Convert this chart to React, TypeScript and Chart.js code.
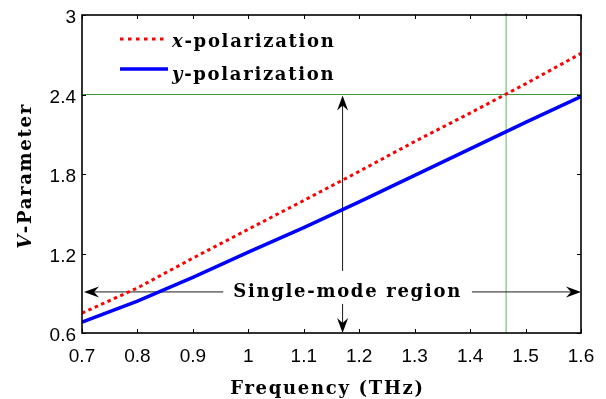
import React, { useEffect, useRef } from "react";
import { Chart, registerables } from "chart.js";

Chart.register(...registerables);

// Frequency samples (THz) and V-parameter for both polarizations
const frequency = [0.7, 0.8, 0.9, 1.0, 1.1, 1.2, 1.3, 1.4, 1.5, 1.6];
const xPolarization = [0.75, 0.94, 1.165, 1.383, 1.6, 1.82, 2.045, 2.26, 2.48, 2.71];
const yPolarization = [0.683, 0.84, 1.02, 1.21, 1.395, 1.59, 1.79, 1.99, 2.19, 2.385];

// Axis ticks
const xTicks = [0.7, 0.8, 0.9, 1.0, 1.1, 1.2, 1.3, 1.4, 1.5, 1.6];
const xTickLabels = ["0.7", "0.8", "0.9", "1", "1.1", "1.2", "1.3", "1.4", "1.5", "1.6"];
const yTicks = [0.6, 1.2, 1.8, 2.4, 3];
const yTickLabels = ["0.6", "1.2", "1.8", "2.4", "3"];

// Single-mode cut-off markers and region annotation
const cutoffV = 2.4;
const cutoffFrequency = 1.465;
const regionV = 0.91;
const markerFrequency = 1.17;
const regionLabel = "Single-mode region";

const SERIF_B = "bold 18px 'DejaVu Serif'";
const SERIF_BI = "italic bold 18px 'DejaVu Serif'";
const SANS = "19px 'Liberation Sans', Arial, sans-serif";
const SPACING = "1.7px";

type Part = { text: string; font: string };

function richWidth(ctx: CanvasRenderingContext2D, parts: Part[]) {
  let w = 0;
  for (const p of parts) {
    ctx.font = p.font;
    w += ctx.measureText(p.text).width;
  }
  return w;
}

function drawRich(ctx: CanvasRenderingContext2D, parts: Part[], x: number, y: number, align: "left" | "center") {
  (ctx as any).letterSpacing = SPACING;
  const w = richWidth(ctx, parts);
  let cx = align === "center" ? x - w / 2 : x;
  ctx.textAlign = "left";
  for (const p of parts) {
    ctx.font = p.font;
    ctx.fillText(p.text, cx, y);
    cx += ctx.measureText(p.text).width;
  }
  (ctx as any).letterSpacing = "0px";
  return w;
}

function arrowHead(ctx: CanvasRenderingContext2D, tx: number, ty: number, dx: number, dy: number) {
  // dx,dy: unit vector pointing from tip back along the shaft
  const len = 15;
  const half = 5.5;
  const notch = 10;
  const px = -dy;
  const py = dx;
  ctx.beginPath();
  ctx.moveTo(tx, ty);
  ctx.lineTo(tx + dx * len + px * half, ty + dy * len + py * half);
  ctx.lineTo(tx + dx * notch, ty + dy * notch);
  ctx.lineTo(tx + dx * len - px * half, ty + dy * len - py * half);
  ctx.closePath();
  ctx.fill();
}

const annotations = {
  id: "vparamAnnotations",
  beforeDatasetsDraw(chart: any) {
    const { ctx, chartArea } = chart;
    const xs = chart.scales.x;
    const ys = chart.scales.y;
    ctx.save();

    // cut-off guide lines
    const gy = ys.getPixelForValue(cutoffV);
    ctx.strokeStyle = "#3a9a3a";
    ctx.lineWidth = 1.2;
    ctx.beginPath();
    ctx.moveTo(chartArea.left, gy);
    ctx.lineTo(chartArea.right, gy);
    ctx.stroke();

    const gx = xs.getPixelForValue(cutoffFrequency);
    ctx.strokeStyle = "#93cf93";
    ctx.lineWidth = 1.5;
    ctx.beginPath();
    ctx.moveTo(gx, chartArea.top - 2);
    ctx.lineTo(gx, chartArea.bottom);
    ctx.stroke();

    // double-headed arrows
    ctx.strokeStyle = "#1a1a1a";
    ctx.fillStyle = "#000";
    ctx.lineWidth = 1;
    const ry = ys.getPixelForValue(regionV);
    const xl = xs.getPixelForValue(xTicks[0]) + 2;
    const xr = xs.getPixelForValue(xTicks[xTicks.length - 1]);
    ctx.beginPath();
    ctx.moveTo(xl + 8, ry);
    ctx.lineTo(xr - 8, ry);
    ctx.stroke();
    arrowHead(ctx, xl, ry, 1, 0);
    arrowHead(ctx, xr, ry, -1, 0);

    const mx = xs.getPixelForValue(markerFrequency);
    const mt = ys.getPixelForValue(cutoffV) + 1;
    const mb = ys.getPixelForValue(yTicks[0]);
    ctx.beginPath();
    ctx.moveTo(mx, mt + 8);
    ctx.lineTo(mx, mb - 8);
    ctx.stroke();
    arrowHead(ctx, mx, mt, 0, 1);
    arrowHead(ctx, mx, mb, 0, -1);

    // region label on a white box
    ctx.font = SERIF_B;
    (ctx as any).letterSpacing = SPACING;
    const tw = ctx.measureText(regionLabel).width;
    const tcx = mx + 5;
    const base = ry + 5;
    ctx.fillStyle = "#fff";
    ctx.fillRect(tcx - tw / 2 - 10, base - 26, tw + 20, 33);
    ctx.fillStyle = "#000";
    ctx.textBaseline = "alphabetic";
    ctx.textAlign = "left";
    ctx.fillText(regionLabel, tcx - tw / 2, base);
    (ctx as any).letterSpacing = "0px";
    ctx.restore();
  },
  afterDatasetsDraw(chart: any) {
    const { ctx, chartArea } = chart;
    const xs = chart.scales.x;
    const ys = chart.scales.y;
    const { left, right, top, bottom } = chartArea;
    ctx.save();

    // axes box
    ctx.strokeStyle = "#000";
    ctx.lineWidth = 1.6;
    ctx.strokeRect(left, top, right - left, bottom - top);

    // inward tick marks on all four sides
    ctx.lineWidth = 1;
    const tl = 4;
    ctx.beginPath();
    for (const v of xTicks) {
      const px = Math.round(xs.getPixelForValue(v)) + 0.5;
      ctx.moveTo(px, bottom);
      ctx.lineTo(px, bottom - tl);
      ctx.moveTo(px, top);
      ctx.lineTo(px, top + tl);
    }
    for (const v of yTicks) {
      const py = Math.round(ys.getPixelForValue(v)) + 0.5;
      ctx.moveTo(left, py);
      ctx.lineTo(left + tl, py);
      ctx.moveTo(right, py);
      ctx.lineTo(right - tl, py);
    }
    ctx.stroke();

    // tick labels
    ctx.fillStyle = "#000";
    ctx.font = SANS;
    ctx.textBaseline = "alphabetic";
    ctx.textAlign = "center";
    xTicks.forEach((v, i) => {
      ctx.fillText(xTickLabels[i], xs.getPixelForValue(v), bottom + 29);
    });
    ctx.textAlign = "right";
    yTicks.forEach((v, i) => {
      ctx.fillText(yTickLabels[i], left - 6, ys.getPixelForValue(v) + 8);
    });

    // axis titles
    ctx.textBaseline = "alphabetic";
    drawRich(ctx, [{ text: "Frequency (THz)", font: SERIF_B }], (left + right) / 2 - 4, 394, "center");
    ctx.save();
    ctx.translate(31, 176);
    ctx.rotate(-Math.PI / 2);
    drawRich(
      ctx,
      [
        { text: "V", font: SERIF_BI },
        { text: "-Parameter", font: SERIF_B },
      ],
      0,
      0,
      "center"
    );
    ctx.restore();

    // legend
    const lx0 = left + 38;
    const lx1 = left + 85;
    ctx.strokeStyle = "#ff0000";
    ctx.lineWidth = 3;
    ctx.setLineDash([3.5, 4.5]);
    ctx.beginPath();
    ctx.moveTo(lx0, top + 24);
    ctx.lineTo(lx1, top + 24);
    ctx.stroke();
    ctx.setLineDash([]);
    ctx.strokeStyle = "#0000ff";
    ctx.lineWidth = 3.5;
    ctx.beginPath();
    ctx.moveTo(lx0, top + 54);
    ctx.lineTo(lx1 + 1, top + 54);
    ctx.stroke();
    drawRich(
      ctx,
      [
        { text: "x", font: SERIF_BI },
        { text: "-polarization", font: SERIF_B },
      ],
      lx1 + 5,
      top + 32,
      "left"
    );
    drawRich(
      ctx,
      [
        { text: "y", font: SERIF_BI },
        { text: "-polarization", font: SERIF_B },
      ],
      lx1 + 5,
      top + 65,
      "left"
    );
    ctx.restore();
  },
};

export default function App() {
  const canvasRef = useRef<HTMLCanvasElement | null>(null);

  useEffect(() => {
    const canvas = canvasRef.current;
    if (!canvas) return;
    const chart = new Chart(canvas, {
      type: "line",
      data: {
        datasets: [
          {
            label: "x-polarization",
            data: frequency.map((f, i) => ({ x: f, y: xPolarization[i] })),
            borderColor: "#ff0000",
            borderWidth: 3,
            borderDash: [3.5, 3.5],
            pointRadius: 0,
            tension: 0,
          },
          {
            label: "y-polarization",
            data: frequency.map((f, i) => ({ x: f, y: yPolarization[i] })),
            borderColor: "#0000ff",
            borderWidth: 3.5,
            pointRadius: 0,
            tension: 0,
          },
        ],
      },
      options: {
        animation: false,
        responsive: false,
        devicePixelRatio: 1,
        layout: { padding: { top: 15, right: 25, left: 0, bottom: 0 } },
        plugins: { legend: { display: false }, tooltip: { enabled: false } },
        scales: {
          x: {
            type: "linear",
            min: 0.7,
            max: 1.6,
            grid: { display: false },
            border: { display: false },
            ticks: { display: false },
            afterFit: (s: any) => {
              s.height = 66;
            },
          },
          y: {
            type: "linear",
            min: 0.6,
            max: 3,
            grid: { display: false },
            border: { display: false },
            ticks: { display: false },
            afterFit: (s: any) => {
              s.width = 82;
            },
          },
        },
      },
      plugins: [annotations],
    });
    return () => chart.destroy();
  }, []);

  return (
    <div style={{ position: "absolute", left: 0, top: 0, width: 606, height: 399, background: "#fff" }}>
      <canvas ref={canvasRef} width={606} height={399} />
    </div>
  );
}
